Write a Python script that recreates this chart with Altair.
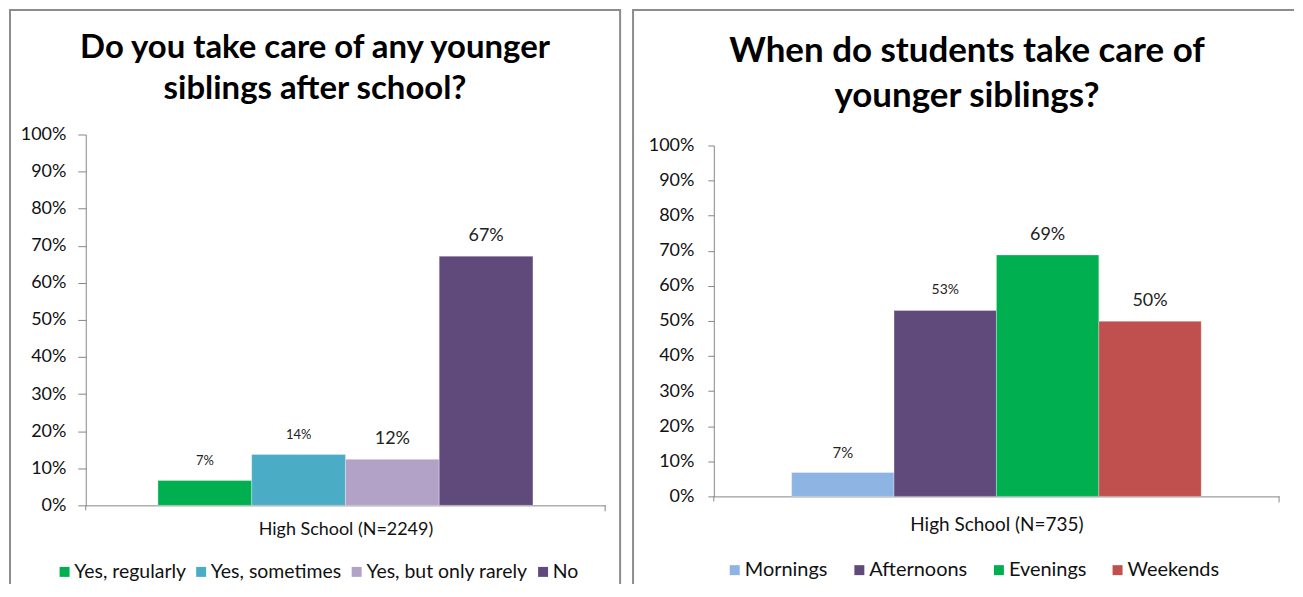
import altair as alt
import pandas as pd
import json

# ---- data ----
left_cats = ["Yes, regularly", "Yes, sometimes", "Yes, but only rarely", "No"]
left_vals = [0.067, 0.137, 0.124, 0.672]
left_colors = ["#00B050", "#4BACC6", "#B2A2C7", "#604A7B"]
left_title = ["Do you take care of any younger", "siblings after school?"]
left_xtitle = "High School (N=2249)"

right_cats = ["Mornings", "Afternoons", "Evenings", "Weekends"]
right_vals = [0.068, 0.530, 0.688, 0.499]
right_colors = ["#8DB4E2", "#604A7B", "#00B050", "#C0504D"]
right_title = ["When do students take care of", "younger siblings?"]
right_xtitle = "High School (N=735)"

y_ticks = [0, 0.1, 0.2, 0.3, 0.4, 0.5, 0.6, 0.7, 0.8, 0.9, 1.0]

FONT = "Lato"
GREY = "#868686"
BORDER = "#8C8C8C"
one = pd.DataFrame({"k": [0]})


def panel(cats, vals, colors, title_lines, xtitle, W, H, top, pad_outer,
          border, title_pos, title_size, small_labels, legend_xy,
          legend_font, legend_gap, tick_size, label_pad, title_pad,
          xtitle_size, right_border=True):
    df = pd.DataFrame({"cat": cats, "val": vals})
    x = alt.X("cat:N", sort=cats,
              scale=alt.Scale(paddingInner=0, paddingOuter=pad_outer),
              axis=alt.Axis(labels=False, ticks=False, domainColor=GREY,
                            domainWidth=1, title=xtitle, titleFont=FONT,
                            titleFontSize=xtitle_size, titleFontWeight="normal",
                            titleColor="#111111", titlePadding=title_pad))
    y = alt.Y("val:Q", scale=alt.Scale(domain=[0, 1], nice=False, range=[H, top]),
              axis=alt.Axis(values=y_ticks, format=".0%", grid=False,
                            labelOverlap=False,
                            domainColor=GREY, tickColor=GREY,
                            tickSize=tick_size, labelPadding=label_pad,
                            labelFont=FONT, labelFontSize=18,
                            labelColor="#111111", title=None))
    bars = alt.Chart(df).mark_bar(stroke="white", strokeWidth=0.5,
                                  strokeOpacity=0.6).encode(
        x=x, y=y,
        color=alt.Color("cat:N", sort=cats,
                        scale=alt.Scale(domain=cats, range=colors),
                        legend=alt.Legend(orient="none", legendX=legend_xy[0],
                                          legendY=legend_xy[1],
                                          direction="horizontal", title=None,
                                          symbolType="square", symbolSize=100,
                                          symbolStrokeWidth=0,
                                          labelFont=FONT, labelFontSize=legend_font,
                                          labelColor="#111111", labelLimit=0,
                                          columnPadding=legend_gap, labelOffset=0,
                                          gridAlign="none", padding=0)))
    conds = [{"test": "datum.cat === " + json.dumps(c), "value": s}
             for c, s in small_labels.items()]
    labels = alt.Chart(df).mark_text(baseline="middle", dy=-20, font=FONT,
                                     color="#222222").encode(
        x=x, y=y,
        text=alt.Text("val:Q", format=".0%"),
        size={"value": 18, "condition": conds})
    bx0, bx1, by0, by1 = border
    layers = [bars, labels]
    layers.append(alt.Chart(one).mark_rule(color=BORDER, strokeWidth=2).encode(
        x=alt.value(bx0), y=alt.value(by0), y2=alt.value(by1)))
    layers.append(alt.Chart(one).mark_rule(color=BORDER, strokeWidth=2).encode(
        x=alt.value(bx0 - 1), x2=alt.value(bx1 + 1), y=alt.value(by0)))
    if right_border:
        layers.append(alt.Chart(one).mark_rule(color=BORDER, strokeWidth=2).encode(
            x=alt.value(bx1), y=alt.value(by0), y2=alt.value(by1)))
    # axis end ticks
    layers.append(alt.Chart(one).mark_rule(color=GREY, strokeWidth=1).encode(
        x=alt.value(0), y=alt.value(H), y2=alt.value(H + 5)))
    layers.append(alt.Chart(one).mark_rule(color=GREY, strokeWidth=1).encode(
        x=alt.value(W), y=alt.value(H), y2=alt.value(H + 6)))
    tx, ty1, ty2 = title_pos
    for line, ty in zip(title_lines, [ty1, ty2]):
        layers.append(alt.Chart(one).mark_text(
            text=line, font=FONT, fontWeight="bold", fontSize=title_size,
            color="black", align="center", baseline="middle").encode(
            x=alt.value(tx), y=alt.value(ty)))
    return alt.layer(*layers).properties(width=W, height=H)


left = panel(left_cats, left_vals, left_colors, left_title, left_xtitle,
             W=521, H=361, top=-11, pad_outer=0.77,
             border=(-76, 536, -136, 440),
             title_pos=(230, -98, -57), title_size=33,
             small_labels={"Yes, regularly": 13, "Yes, sometimes": 13},
             legend_xy=(-31, 418), legend_font=19.5, legend_gap=5,
             tick_size=8, label_pad=12, title_pad=15, xtitle_size=18)

right = panel(right_cats, right_vals, right_colors, right_title, right_xtitle,
              W=567, H=352, top=0, pad_outer=0.76,
              border=(-81, 581, -136, 440),
              title_pos=(254, -95, -50), title_size=35,
              small_labels={"Mornings": 15, "Afternoons": 14},
              legend_xy=(11, 416), legend_font=20, legend_gap=21,
              tick_size=6, label_pad=14, title_pad=19, xtitle_size=19,
              right_border=False)

chart = alt.hconcat(left, right, spacing=9).resolve_scale(
    x="independent", y="independent", color="independent"
).resolve_legend(color="independent").properties(padding=0).configure(
    font=FONT, background="white").configure_view(stroke=None)

chart.save("out.html", embed_options={"renderer": "svg", "actions": False})
